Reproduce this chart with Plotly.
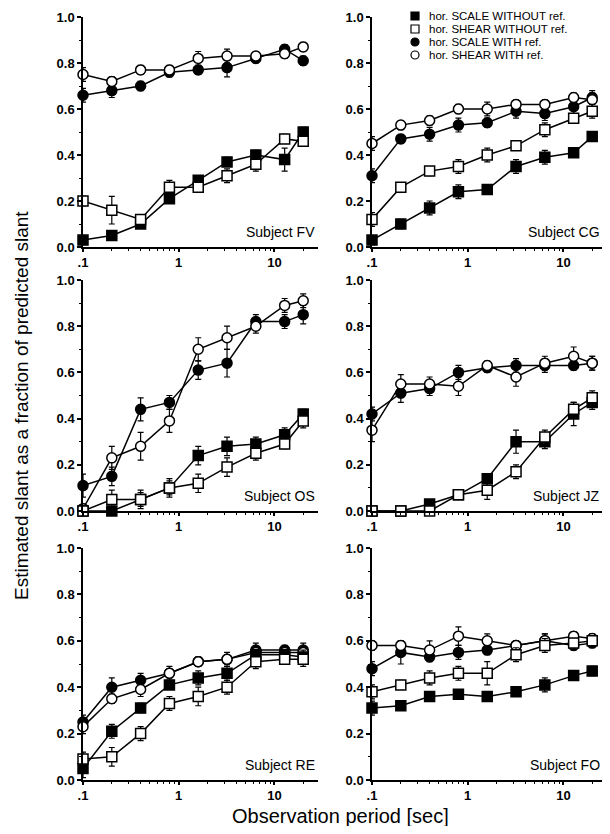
import plotly.graph_objects as go

# ---------------- data ----------------
x_period = [0.1, 0.2, 0.4, 0.8, 1.6, 3.2, 6.4, 12.8, 20]
subjects = ["FV", "CG", "OS", "JZ", "RE", "FO"]
series_names = ["hor. SCALE WITHOUT ref.", "hor. SHEAR WITHOUT ref.",
                "hor. SCALE WITH ref.", "hor. SHEAR WITH ref."]

# Subject FV
fv_scale_without = [0.03, 0.05, 0.10, 0.21, 0.29, 0.37, 0.40, 0.38, 0.50]
fv_shear_without = [0.20, 0.16, 0.12, 0.26, 0.26, 0.31, 0.36, 0.47, 0.46]
fv_scale_with    = [0.66, 0.68, 0.70, 0.76, 0.77, 0.78, 0.82, 0.86, 0.81]
fv_shear_with    = [0.75, 0.72, 0.77, 0.77, 0.82, 0.83, 0.83, 0.84, 0.87]
fv_err_scale_without = [0.01, 0.01, 0.01, 0.02, 0.02, 0.02, 0.02, 0.05, 0.02]
fv_err_shear_without = [0.02, 0.06, 0.02, 0.03, 0.02, 0.03, 0.03, 0.02, 0.02]
fv_err_scale_with    = [0.03, 0.03, 0.02, 0.02, 0.02, 0.04, 0.02, 0.02, 0.02]
fv_err_shear_with    = [0.03, 0.02, 0.02, 0.02, 0.03, 0.03, 0.02, 0.02, 0.02]

# Subject CG
cg_scale_without = [0.03, 0.10, 0.17, 0.24, 0.25, 0.35, 0.39, 0.41, 0.48]
cg_shear_without = [0.12, 0.26, 0.33, 0.35, 0.40, 0.44, 0.51, 0.56, 0.59]
cg_scale_with    = [0.31, 0.47, 0.49, 0.53, 0.54, 0.59, 0.58, 0.61, 0.65]
cg_shear_with    = [0.45, 0.53, 0.55, 0.60, 0.60, 0.62, 0.62, 0.65, 0.64]
cg_err_scale_without = [0.02, 0.02, 0.03, 0.03, 0.02, 0.03, 0.03, 0.02, 0.02]
cg_err_shear_without = [0.03, 0.02, 0.02, 0.03, 0.03, 0.02, 0.03, 0.02, 0.03]
cg_err_scale_with    = [0.03, 0.02, 0.03, 0.03, 0.02, 0.03, 0.03, 0.03, 0.03]
cg_err_shear_with    = [0.03, 0.02, 0.02, 0.02, 0.03, 0.02, 0.02, 0.02, 0.03]

# Subject OS
os_scale_without = [0.00, 0.00, 0.05, 0.10, 0.24, 0.28, 0.29, 0.33, 0.42]
os_shear_without = [0.00, 0.05, 0.05, 0.10, 0.12, 0.19, 0.25, 0.29, 0.39]
os_scale_with    = [0.11, 0.15, 0.44, 0.47, 0.61, 0.64, 0.82, 0.82, 0.85]
os_shear_with    = [0.01, 0.23, 0.28, 0.39, 0.70, 0.75, 0.80, 0.89, 0.91]
os_err_scale_without = [0.00, 0.00, 0.04, 0.04, 0.04, 0.04, 0.03, 0.03, 0.02]
os_err_shear_without = [0.00, 0.04, 0.03, 0.03, 0.04, 0.04, 0.03, 0.02, 0.03]
os_err_scale_with    = [0.05, 0.04, 0.05, 0.03, 0.04, 0.06, 0.03, 0.03, 0.04]
os_err_shear_with    = [0.02, 0.05, 0.06, 0.05, 0.05, 0.05, 0.03, 0.03, 0.03]

# Subject JZ
jz_scale_without = [0.00, 0.00, 0.03, 0.07, 0.14, 0.30, 0.30, 0.42, 0.47]
jz_shear_without = [0.00, 0.00, 0.00, 0.07, 0.09, 0.17, 0.32, 0.44, 0.49]
jz_scale_with    = [0.42, 0.51, 0.53, 0.60, 0.62, 0.63, 0.63, 0.63, 0.64]
jz_shear_with    = [0.35, 0.55, 0.55, 0.54, 0.63, 0.58, 0.64, 0.67, 0.64]
jz_err_scale_without = [0.00, 0.00, 0.00, 0.02, 0.02, 0.05, 0.03, 0.05, 0.03]
jz_err_shear_without = [0.00, 0.00, 0.00, 0.02, 0.04, 0.03, 0.03, 0.03, 0.03]
jz_err_scale_with    = [0.03, 0.04, 0.03, 0.03, 0.02, 0.03, 0.03, 0.02, 0.03]
jz_err_shear_with    = [0.05, 0.04, 0.03, 0.04, 0.02, 0.04, 0.03, 0.04, 0.03]

# Subject RE
re_scale_without = [0.05, 0.21, 0.31, 0.41, 0.44, 0.46, 0.54, 0.54, 0.53]
re_shear_without = [0.09, 0.10, 0.20, 0.33, 0.36, 0.40, 0.51, 0.52, 0.52]
re_scale_with    = [0.25, 0.40, 0.43, 0.46, 0.51, 0.52, 0.56, 0.56, 0.56]
re_shear_with    = [0.23, 0.35, 0.39, 0.46, 0.51, 0.52, 0.55, 0.55, 0.55]
re_err_scale_without = [0.04, 0.03, 0.02, 0.02, 0.03, 0.03, 0.02, 0.02, 0.03]
re_err_shear_without = [0.03, 0.04, 0.03, 0.03, 0.04, 0.03, 0.03, 0.02, 0.03]
re_err_scale_with    = [0.03, 0.04, 0.03, 0.03, 0.02, 0.03, 0.03, 0.02, 0.03]
re_err_shear_with    = [0.03, 0.02, 0.03, 0.02, 0.02, 0.02, 0.02, 0.02, 0.02]

# Subject FO
fo_scale_without = [0.31, 0.32, 0.36, 0.37, 0.36, 0.38, 0.41, 0.45, 0.47]
fo_shear_without = [0.38, 0.41, 0.44, 0.46, 0.46, 0.54, 0.58, 0.59, 0.60]
fo_scale_with    = [0.48, 0.55, 0.53, 0.55, 0.56, 0.58, 0.60, 0.58, 0.59]
fo_shear_with    = [0.58, 0.58, 0.56, 0.62, 0.60, 0.58, 0.60, 0.62, 0.61]
fo_err_scale_without = [0.03, 0.02, 0.02, 0.01, 0.02, 0.02, 0.03, 0.02, 0.02]
fo_err_shear_without = [0.03, 0.02, 0.03, 0.03, 0.05, 0.03, 0.03, 0.02, 0.02]
fo_err_scale_with    = [0.03, 0.05, 0.02, 0.03, 0.02, 0.02, 0.03, 0.02, 0.02]
fo_err_shear_with    = [0.02, 0.02, 0.04, 0.04, 0.03, 0.02, 0.03, 0.02, 0.02]

x_tickvals = [0.1, 1, 10]
x_ticktext = [".1", "1", "10"]
y_tickvals = [0.0, 0.2, 0.4, 0.6, 0.8, 1.0]
y_ticktext = ["0.0", "0.2", "0.4", "0.6", "0.8", "1.0"]

panel_data = {
    "FV": [(fv_scale_without, fv_err_scale_without), (fv_shear_without, fv_err_shear_without),
           (fv_scale_with, fv_err_scale_with), (fv_shear_with, fv_err_shear_with)],
    "CG": [(cg_scale_without, cg_err_scale_without), (cg_shear_without, cg_err_shear_without),
           (cg_scale_with, cg_err_scale_with), (cg_shear_with, cg_err_shear_with)],
    "OS": [(os_scale_without, os_err_scale_without), (os_shear_without, os_err_shear_without),
           (os_scale_with, os_err_scale_with), (os_shear_with, os_err_shear_with)],
    "JZ": [(jz_scale_without, jz_err_scale_without), (jz_shear_without, jz_err_shear_without),
           (jz_scale_with, jz_err_scale_with), (jz_shear_with, jz_err_shear_with)],
    "RE": [(re_scale_without, re_err_scale_without), (re_shear_without, re_err_shear_without),
           (re_scale_with, re_err_scale_with), (re_shear_with, re_err_shear_with)],
    "FO": [(fo_scale_without, fo_err_scale_without), (fo_shear_without, fo_err_shear_without),
           (fo_scale_with, fo_err_scale_with), (fo_shear_with, fo_err_shear_with)],
}

# ---------------- layout geometry (screen pixels; page body has an 8px margin) ----------------
OFF = 8
W, H = 610 - 2 * OFF, 834 - 2 * OFF
DECADE = 95.7  # pixels per decade on the x axes
col_px = [(83, 318), (372, 602)]
row_px = [(17, 247), (280, 511), (548, 780)]

def px_x(p):
    return (p - OFF) / W

def px_y(p):
    return 1 - (p - OFF) / H

# marker style per series: (symbol, fill)
styles = [("square", "black"), ("square", "white"), ("circle", "black"), ("circle", "white")]
draw_order = [2, 3, 0, 1]

fig = go.Figure()
layout_axes = {}
annotations = []
FONT = "Liberation Sans, Arial, sans-serif"
BOLD_TICK = dict(family=FONT, size=13, color="black", weight="bold")

minor_x = [0.2, 0.3, 0.4, 0.5, 0.6, 0.7, 0.8, 0.9, 2, 3, 4, 5, 6, 7, 8, 9, 20]

for i, subj in enumerate(subjects):
    r, c = divmod(i, 2)
    n = i + 1
    xa = "x" if n == 1 else f"x{n}"
    ya = "y" if n == 1 else f"y{n}"
    xkey = "xaxis" if n == 1 else f"xaxis{n}"
    ykey = "yaxis" if n == 1 else f"yaxis{n}"
    x0, x1 = col_px[c]
    y0, y1 = row_px[r]
    x_end = -1 + (x1 - x0) / DECADE
    layout_axes[xkey] = dict(
        type="log", range=[-1, x_end], domain=[max(0, px_x(x0)), min(1, px_x(x1))], anchor=ya,
        automargin=False,
        showgrid=False, zeroline=False, showline=True, linecolor="black", linewidth=1.5,
        tickmode="array", tickvals=x_tickvals, ticktext=x_ticktext,
        ticks="outside", ticklen=3, tickwidth=1.5, tickcolor="black", tickfont=BOLD_TICK,
        minor=dict(tickmode="array", tickvals=minor_x, ticks="outside", ticklen=2,
                   tickwidth=1, tickcolor="black"),
    )
    layout_axes[ykey] = dict(
        range=[0, 1.0], domain=[px_y(y1), px_y(y0)], anchor=xa,
        automargin=False,
        showgrid=False, zeroline=False, showline=True, linecolor="black", linewidth=1.5,
        tickmode="array", tickvals=y_tickvals, ticktext=y_ticktext,
        ticks="outside", ticklen=4, tickwidth=1.5, tickcolor="black", tickfont=BOLD_TICK,
        minor=dict(dtick=0.1, ticks="outside", ticklen=2, tickwidth=1, tickcolor="black"),
    )
    for s in draw_order:
        vals, errs = panel_data[subj][s]
        sym, fill = styles[s]
        fig.add_trace(go.Scatter(
            x=x_period, y=vals, xaxis=xa, yaxis=ya, mode="lines+markers",
            name=series_names[s], showlegend=False, cliponaxis=False,
            line=dict(color="black", width=1.5),
            marker=dict(symbol=sym, size=10, color=fill, line=dict(color="black", width=1.5)),
            error_y=dict(type="data", array=errs, visible=True, color="black",
                         thickness=1.2, width=3),
        ))
    label_right = 317 if c == 0 else 602
    annotations.append(dict(
        text=f"Subject {subj}", xref="paper", yref=f"{ya} domain",
        x=px_x(label_right), y=0.065, xanchor="right", yanchor="middle", showarrow=False,
        font=dict(family=FONT, size=14, color="black"),
    ))

# axis titles
annotations.append(dict(
    text="Observation period [sec]", xref="paper", yref="paper",
    x=px_x(341), y=px_y(816), xanchor="center", yanchor="middle", showarrow=False,
    font=dict(family=FONT, size=20, color="black"),
))
annotations.append(dict(
    text="Estimated slant as a fraction of predicted slant", xref="paper", yref="paper",
    x=px_x(21), y=px_y(406), xanchor="center", yanchor="middle", showarrow=False,
    textangle=-90,
    font=dict(family=FONT, size=19, color="black"),
))

# legend (drawn manually inside the top-right panel)
shapes = []
leg_x = 415
leg_rows = [16, 29, 42, 55]
half = 4
for k, name in enumerate(series_names):
    sym, fill = styles[k]
    cy = leg_rows[k]
    shapes.append(dict(
        type="rect" if sym == "square" else "circle", xref="paper", yref="paper",
        x0=px_x(leg_x - half), x1=px_x(leg_x + half),
        y0=px_y(cy + half), y1=px_y(cy - half),
        fillcolor=fill, line=dict(color="black", width=1.2),
    ))
    annotations.append(dict(
        text=name, xref="paper", yref="paper", x=px_x(427), y=px_y(cy),
        xanchor="left", yanchor="middle", showarrow=False,
        font=dict(family=FONT, size=11.5, color="black"),
    ))

fig.update_layout(
    width=W, height=H, margin=dict(l=0, r=0, t=0, b=0),
    paper_bgcolor="white", plot_bgcolor="white", template="none",
    showlegend=False, annotations=annotations, shapes=shapes,
    **layout_axes,
)

fig.write_html("out.html")
